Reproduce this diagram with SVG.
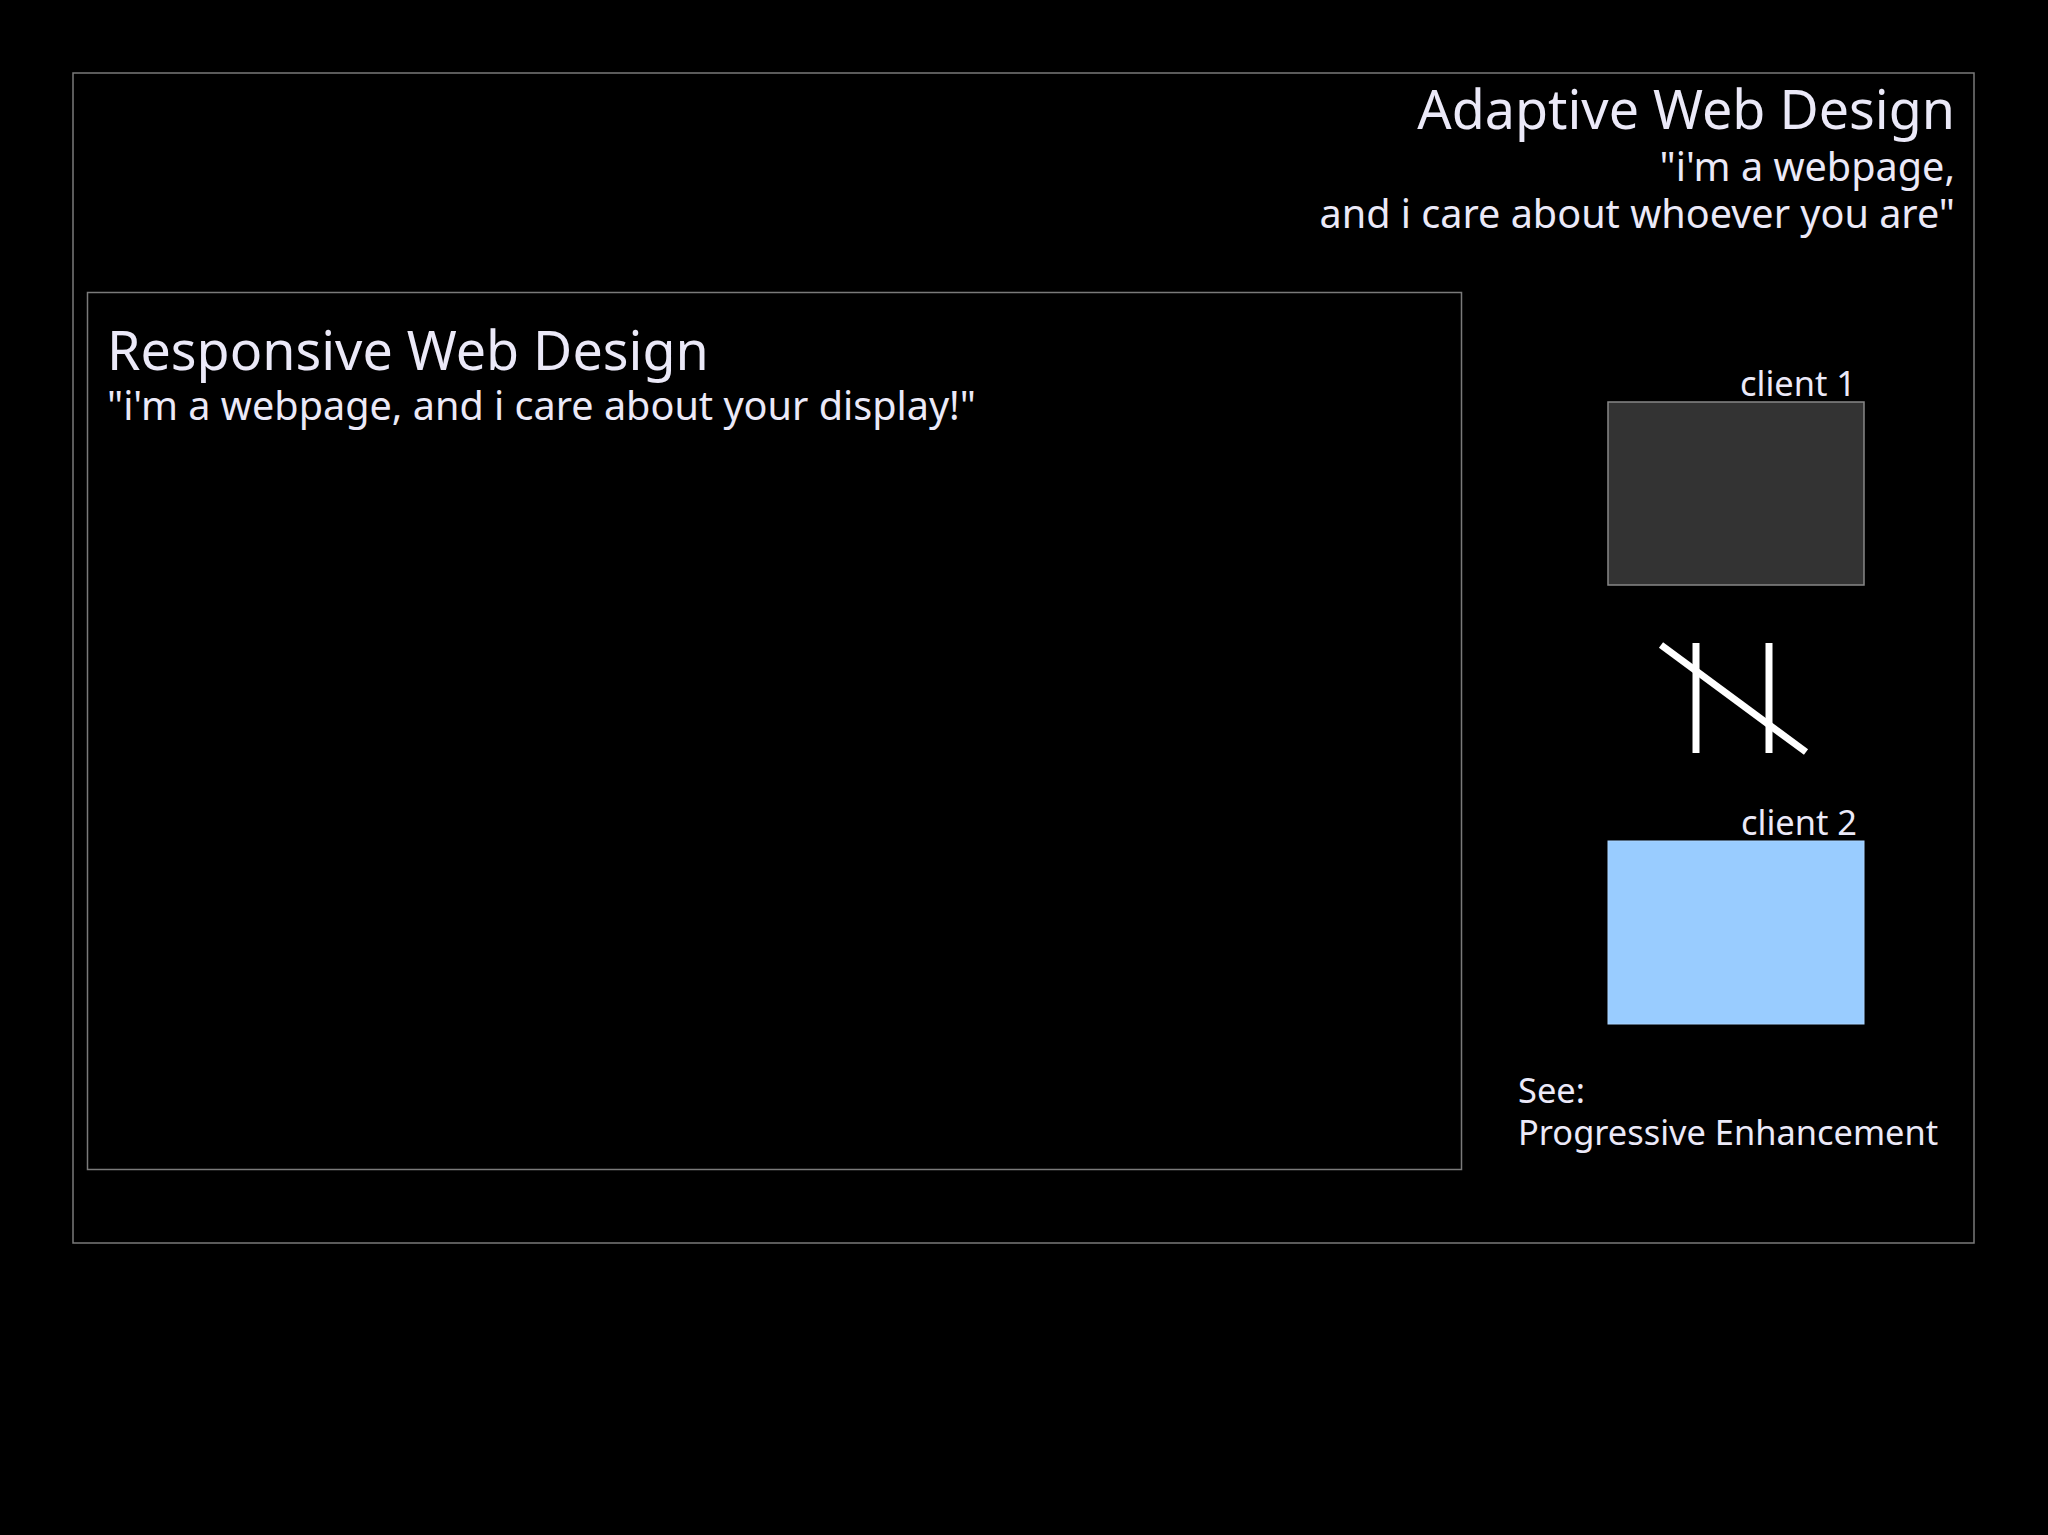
<svg xmlns="http://www.w3.org/2000/svg" width="2048" height="1535" viewBox="0 0 2048 1535">
<style>
.frame{fill:none;stroke:#7a7a7a;stroke-width:1.5}
.t{font-family:"Noto Sans","Open Sans","DejaVu Sans",sans-serif;fill:#ebe9f8}
.h{font-size:53.8px}
.s{font-size:39.6px}
.m{font-size:34.4px}
.sym{stroke:#ffffff;stroke-width:7;fill:none}
</style>
<rect x="0" y="0" width="2048" height="1535" fill="#000000"/>
<g id="adaptive">
<rect class="frame" x="73" y="73" width="1901" height="1170"/>
<text class="t h" x="1955" y="129" text-anchor="end">Adaptive Web Design</text>
<text class="t s" x="1955" y="181" text-anchor="end">"i'm a webpage,</text>
<text class="t s" x="1955" y="228" text-anchor="end">and i care about whoever you are"</text>
</g>
<g id="responsive">
<rect class="frame" x="87.5" y="292.5" width="1374" height="877"/>
<text class="t h" x="107" y="370">Responsive Web Design</text>
<text class="t s" x="107" y="420">"i'm a webpage, and i care about your display!"</text>
</g>
<g id="client1">
<rect x="1608" y="402" width="256" height="183" fill="#333333" stroke="#888888" stroke-width="1.5"/>
<text class="t m" x="1856" y="396" text-anchor="end">client 1</text>
</g>
<g id="not-parallel">
<line class="sym" x1="1696" y1="643" x2="1696" y2="753"/>
<line class="sym" x1="1769" y1="643" x2="1769" y2="753"/>
<line class="sym" x1="1661" y1="645" x2="1806" y2="752"/>
</g>
<g id="client2">
<rect x="1608" y="841" width="256" height="183" fill="#99ccff" stroke="#aad4ff" stroke-width="1"/>
<text class="t m" x="1857" y="835" text-anchor="end">client 2</text>
</g>
<g id="see-note">
<text class="t m" x="1518" y="1103">See:</text>
<text class="t m" x="1518" y="1145">Progressive Enhancement</text>
</g>
<g id="connectors"/>
</svg>
